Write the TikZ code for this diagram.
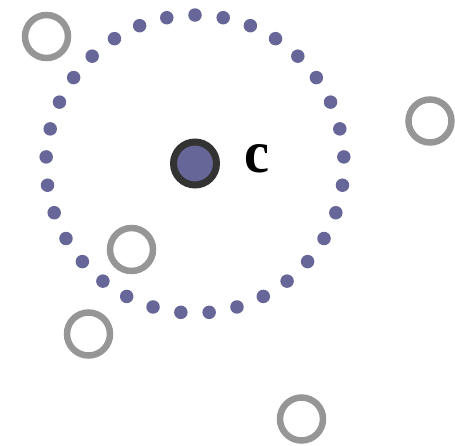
\documentclass[tikz,border=0pt]{standalone}
\usepackage{graphicx}
\usepackage{fontspec}
\newfontfamily\labelfont{Liberation Serif}
\definecolor{dotblue}{RGB}{102,102,153}
\definecolor{ringgray}{RGB}{150,150,150}
\definecolor{darkrim}{RGB}{51,51,51}
\tikzset{
  ringnode/.style={circle, draw=ringgray, line width=6.5pt, minimum size=43pt, inner sep=0pt},
  centernode/.style={circle, draw=darkrim, fill=dotblue, line width=7pt, minimum size=43pt, inner sep=0pt},
  dotnode/.style={circle, fill=dotblue, minimum size=13.5pt, inner sep=0pt}
}
\begin{document}
\begin{tikzpicture}[x=1pt,y=-1pt]
\useasboundingbox (0,0) rectangle (455,445);
\node[centernode] (c) at (195,163.5) {};
\node[inner sep=0pt, anchor=center] (clabel) at (257,158.5) {\resizebox{25pt}{28pt}{\labelfont\bfseries c}};
\foreach \k in {0,...,32} {
  \pgfmathsetmacro{\a}{90-\k*360/33}
  \node[dotnode] (d\k) at ({195+149*cos(\a)},{164-149*sin(\a)}) {};
}
\node[ringnode] (r1) at (46.5,36.5) {};
\node[ringnode] (r2) at (430,121) {};
\node[ringnode] (r3) at (131.5,249.5) {};
\node[ringnode] (r4) at (88.5,334) {};
\node[ringnode] (r5) at (301.5,419) {};
\end{tikzpicture}
\end{document}
